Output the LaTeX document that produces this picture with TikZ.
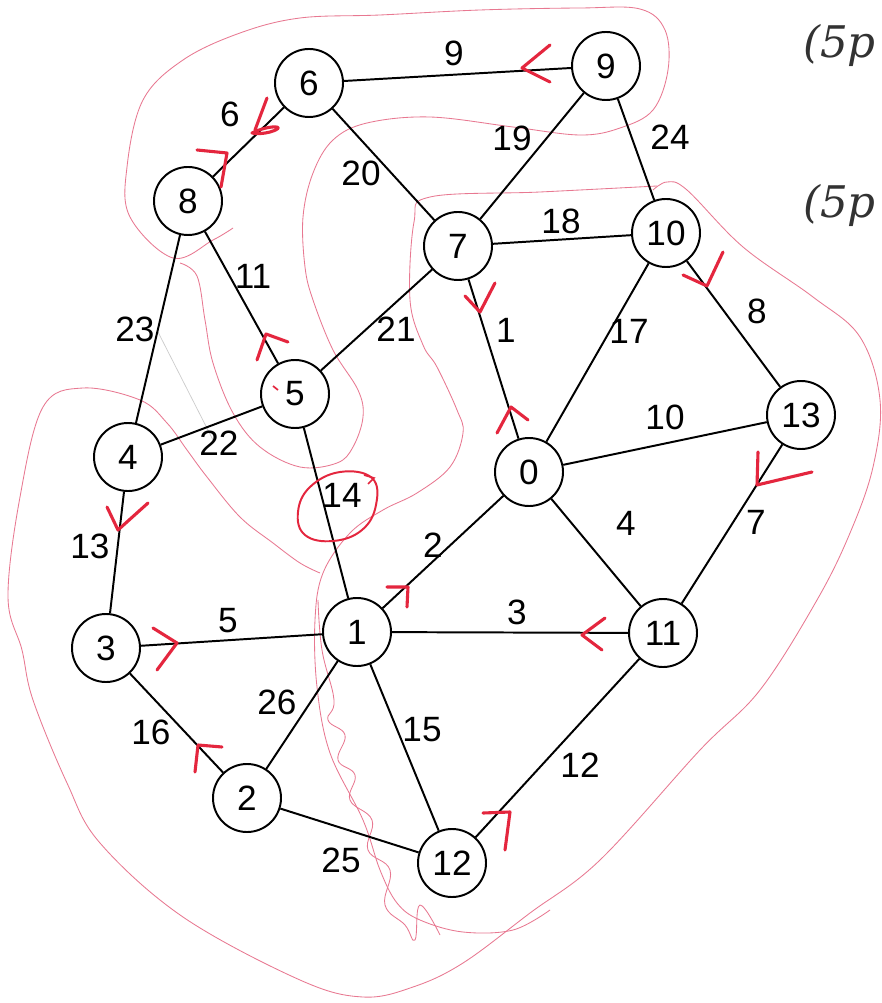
\documentclass[tikz,border=0pt]{standalone}
\usepackage{fontspec}
\setmainfont{Liberation Sans}
\newfontfamily\handfont{DejaVu Serif}
\definecolor{pinkline}{RGB}{232,120,145}
\definecolor{redmark}{RGB}{228,38,62}
\definecolor{hand}{RGB}{50,50,50}
\tikzset{
  vtx/.style={circle,draw=black,line width=1.4pt,fill=white,minimum size=1.7cm,inner sep=0pt,font=\fontsize{25}{28}\selectfont},
  edge/.style={draw=black,line width=1.4pt},
  wlab/.style={inner sep=0pt,font=\fontsize{25}{28}\selectfont},
  pinkstroke/.style={draw=pinkline,line width=0.6pt},
  redtick/.style={draw=redmark,line width=2.2pt,line cap=round,line join=round},
  handtext/.style={inner sep=0pt,text=hand,font=\handfont\fontsize{31}{33}\selectfont\itshape}
}
\begin{document}
\begin{tikzpicture}[x=0.025cm,y=-0.025cm]
\clip (0,0) rectangle (881,1003);
\fill[white] (0,0) rectangle (881,1003);

% pink hand-drawn curves
\draw[pinkstroke] plot[smooth,tension=0.6] coordinates {(180,263) (197,276) (205,320) (213,363) (233,413) (260,447) (300,467) (337,463) (353,447) (363,417) (358,390) (333,350) (313,300) (305,267) (303,217) (313,173) (333,140) (367,123) (430,117) (513,127) (580,135) (620,128) (653,110) (668,70) (665,30) (640,9) (580,8) (480,10) (380,15) (300,18) (240,33) (183,60) (143,100) (127,167) (130,217) (173,258) (213,240) (233,228)};
\draw[pinkstroke] plot[smooth,tension=0.6] coordinates {(657,186) (540,192) (430,197) (414,222) (410,300) (423,345) (437,367) (457,410) (463,433) (450,467) (417,493) (383,510) (350,533) (323,573) (315,620) (317,687) (330,753) (363,820) (380,870) (397,903) (420,920) (463,932) (513,930) (550,910)};
\draw[pinkstroke] plot[smooth,tension=0.6] coordinates {(320,573) (300,563) (273,543) (240,517) (207,477) (187,450) (167,423) (140,400) (83,388) (43,407) (20,497) (8,597) (22,650) (33,700) (67,783) (100,843) (183,917) (300,980) (363,997) (413,987) (463,963) (530,913) (600,860) (700,750) (760,690) (817,600) (850,533) (873,467) (880,400) (860,337) (813,297) (743,247) (687,190) (667,182) (653,190)};
\draw[pinkstroke] plot[smooth,tension=0.7] coordinates {(318,600) (322,650) (334,700) (328,720) (345,735) (338,760) (355,775) (350,800) (372,820) (368,850) (390,870) (385,905) (405,925) (415,940) (420,905) (440,935)};
\draw[draw=black!20,line width=0.5pt] (157,330) -- (213,440);

% graph nodes
\node[vtx] (n6) at (309,83) {6};
\node[vtx] (n9) at (606,66) {9};
\node[vtx] (n8) at (188,201) {8};
\node[vtx] (n7) at (458,246) {7};
\node[vtx] (n10) at (666,233) {10};
\node[vtx] (n5) at (295,394) {5};
\node[vtx] (n13) at (801,415) {13};
\node[vtx] (n4) at (128,457) {4};
\node[vtx] (n0) at (529,472) {0};
\node[vtx] (n3) at (106,648) {3};
\node[vtx] (n1) at (357,632) {1};
\node[vtx] (n11) at (663,633) {11};
\node[vtx] (n2) at (247,798) {2};
\node[vtx] (n12) at (452,863) {12};

% edges
\draw[edge] (n6) -- (n9);
\draw[edge] (n6) -- (n8);
\draw[edge] (n6) -- (n7);
\draw[edge] (n9) -- (n7);
\draw[edge] (n9) -- (n10);
\draw[edge] (n7) -- (n10);
\draw[edge] (n7) -- (n5);
\draw[edge] (n7) -- (n0);
\draw[edge] (n10) -- (n0);
\draw[edge] (n10) -- (n13);
\draw[edge] (n8) -- (n5);
\draw[edge] (n8) -- (n4);
\draw[edge] (n5) -- (n4);
\draw[edge] (n5) -- (n1);
\draw[edge] (n0) -- (n13);
\draw[edge] (n0) -- (n1);
\draw[edge] (n0) -- (n11);
\draw[edge] (n13) -- (n11);
\draw[edge] (n4) -- (n3);
\draw[edge] (n3) -- (n1);
\draw[edge] (n1) -- (n11);
\draw[edge] (n3) -- (n2);
\draw[edge] (n1) -- (n2);
\draw[edge] (n1) -- (n12);
\draw[edge] (n11) -- (n12);
\draw[edge] (n2) -- (n12);

% weights
\node[wlab] (w69) at (454,53) {9};
\node[wlab] (w68) at (230,114) {6};
\node[wlab] (w67) at (361,173) {20};
\node[wlab] (w97) at (512,138) {19};
\node[wlab] (w910) at (670,137) {24};
\node[wlab] (w710) at (561,221) {18};
\node[wlab] (w85) at (253,276) {11};
\node[wlab] (w84) at (135,329) {23};
\node[wlab] (w75) at (396,329) {21};
\node[wlab] (w70) at (506,330) {1};
\node[wlab] (w100) at (629,331) {17};
\node[wlab] (w1013) at (757,311) {8};
\node[wlab] (w54) at (219,443) {22};
\node[wlab] (w013) at (665,417) {10};
\node[wlab] (w51) at (342,495) {14};
\node[wlab] (w011) at (626,523) {4};
\node[wlab] (w1311) at (756,522) {7};
\node[wlab] (w43) at (90,546) {13};
\node[wlab] (w01) at (433,545) {2};
\node[wlab] (w31) at (228,621) {5};
\node[wlab] (w111) at (517,612) {3};
\node[wlab] (w12) at (277,702) {26};
\node[wlab] (w32) at (151,732) {16};
\node[wlab] (w112) at (422,730) {15};
\node[wlab] (w1112) at (580,765) {12};
\node[wlab] (w212) at (341,860) {25};

% red marks
\draw[redtick] (550,45) -- (522,68) -- (550,82);
\draw[redtick] (267,98) -- (255,130) (252,133) .. controls (270,124) and (290,126) .. (270,132) .. controls (262,134) and (256,134) .. (252,133);
\draw[redtick] (197,150) -- (227,153) -- (221,187);
\draw[redtick] (257,360) -- (266,334) -- (288,342);
\draw[redtick] (465,296) -- (480,312) -- (495,283);
\draw[redtick] (497,433) -- (511,407) -- (528,420);
\draw[redtick] (683,275) -- (707,286) -- (723,252);
\draw[redtick] (758,452) -- (757,485) -- (812,472);
\draw[redtick] (107,507) -- (118,530) -- (148,503);
\draw[redtick] (153,628) -- (177,643) -- (157,670);
\draw[redtick] (387,587) -- (408,587) -- (407,607);
\draw[redtick] (605,618) -- (582,635) -- (602,650);
\draw[redtick] (195,772) -- (198,745) -- (222,747);
\draw[redtick] (483,813) -- (510,812) -- (505,850);
\draw[draw=redmark,line width=1.2pt] (273,386) -- (278,390);
\draw[draw=redmark,line width=1.4pt] plot[smooth cycle,tension=0.7] coordinates {(372,478) (376,505) (362,530) (333,541) (305,535) (298,512) (310,487) (340,472)};
\draw[draw=redmark,line width=1.2pt] (364,475) -- (374,478) -- (368,484);

% handwritten notes
\node[handtext,anchor=east] (t1) at (876,45) {(5p};
\node[handtext,anchor=east] (t2) at (876,205) {(5p};
\end{tikzpicture}
\end{document}
